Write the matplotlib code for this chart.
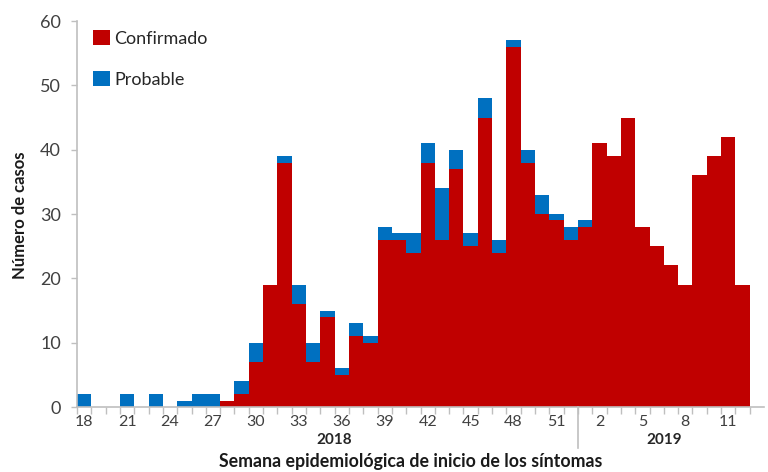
import matplotlib
matplotlib.use("Agg")
import matplotlib.pyplot as plt
import numpy as np

plt.rcParams['font.family'] = ['Lato', 'DejaVu Sans']

# semanas epidemiologicas: 2018 (18-52) y 2019 (1-12)
weeks_2018 = list(range(18, 53))
weeks_2019 = list(range(1, 13))

confirmado = [0, 0, 0, 0, 0, 0, 0, 0, 0, 0,       # 18-27
              1, 2, 7, 19, 38, 16, 7, 14, 5, 11,  # 28-37
              10, 26, 26, 24, 38, 26, 37, 25, 45, 24,  # 38-47
              56, 38, 30, 29, 26,                 # 48-52
              28, 41, 39, 45, 28, 25, 22, 19, 36, 39, 42, 19]  # 2019
probable = [2, 0, 0, 2, 0, 2, 0, 1, 2, 2,
            0, 2, 3, 0, 1, 3, 3, 1, 1, 2,
            1, 2, 1, 3, 3, 8, 3, 2, 3, 2,
            1, 2, 3, 1, 2,
            1, 0, 0, 0, 0, 0, 0, 0, 0, 0, 0, 0]

tick_weeks_2018 = [18, 21, 24, 27, 30, 33, 36, 39, 42, 45, 48, 51]
tick_weeks_2019 = [2, 5, 8, 11]

red = '#C00000'
blue = '#0070C0'
gray = '#BFBFBF'
txt = '#404040'

n = len(weeks_2018) + len(weeks_2019)
x = np.arange(n)

fig = plt.figure(figsize=(7.68, 4.72), dpi=100)
ax = fig.add_axes([0.1003, 0.1377, 0.8945, 0.8178])

ax.bar(x, confirmado, width=1.0, color=red, label='Confirmado', linewidth=0)
ax.bar(x, probable, width=1.0, bottom=confirmado, color=blue, label='Probable', linewidth=0)

ax.set_xlim(-0.5, 47.5)
ax.set_ylim(0, 60)

for s in ['top', 'right']:
    ax.spines[s].set_visible(False)
for s in ['left', 'bottom']:
    ax.spines[s].set_color(gray)
    ax.spines[s].set_linewidth(1.2)

ax.set_yticks(np.arange(0, 61, 10))
ax.tick_params(axis='y', colors=gray, labelcolor=txt, labelsize=13, length=4.5, width=1, pad=7)

tick_pos = [weeks_2018.index(w) for w in tick_weeks_2018] + \
           [len(weeks_2018) + weeks_2019.index(w) for w in tick_weeks_2019]
tick_lab = [str(w) for w in tick_weeks_2018 + tick_weeks_2019]
ax.set_xticks(tick_pos)
ax.set_xticklabels(tick_lab)
ax.set_xticks(np.arange(-0.5, n, 1.0), minor=True)
ax.tick_params(axis='x', which='major', length=0, labelcolor=txt, labelsize=11.5, pad=6)
ax.tick_params(axis='x', which='minor', length=5, color=gray, width=1)

# separador de año
sep = len(weeks_2018) - 0.5
ax.plot([sep, sep], [0, -0.105], color=gray, lw=1.2, clip_on=False,
        transform=ax.get_xaxis_transform())

trans = ax.get_xaxis_transform()
ax.text((len(weeks_2018) - 1) / 2 + 0.5, -0.085, '2018', transform=trans,
        ha='center', va='center', fontsize=11, fontweight='bold', color='#262626')
ax.text(len(weeks_2018) + (len(weeks_2019) - 1) / 2, -0.085, '2019', transform=trans,
        ha='center', va='center', fontsize=11, fontweight='bold', color='#262626')

fig.text(0.535, 0.022, 'Semana epidemiológica de inicio de los síntomas',
         ha='center', va='center', fontsize=12.8, fontweight='bold', color='#1a1a1a')
fig.text(0.026, 0.545, 'Número de casos', rotation=90,
         ha='center', va='center', fontsize=12, fontweight='bold', color='#1a1a1a')

leg = ax.legend(loc='upper left', bbox_to_anchor=(0.0, 1.018), frameon=False,
                fontsize=13, handlelength=0.9, handleheight=0.9,
                handletextpad=0.25, labelspacing=1.35)
for t in leg.get_texts():
    t.set_color('#262626')

fig.savefig('out.png', dpi=100)
